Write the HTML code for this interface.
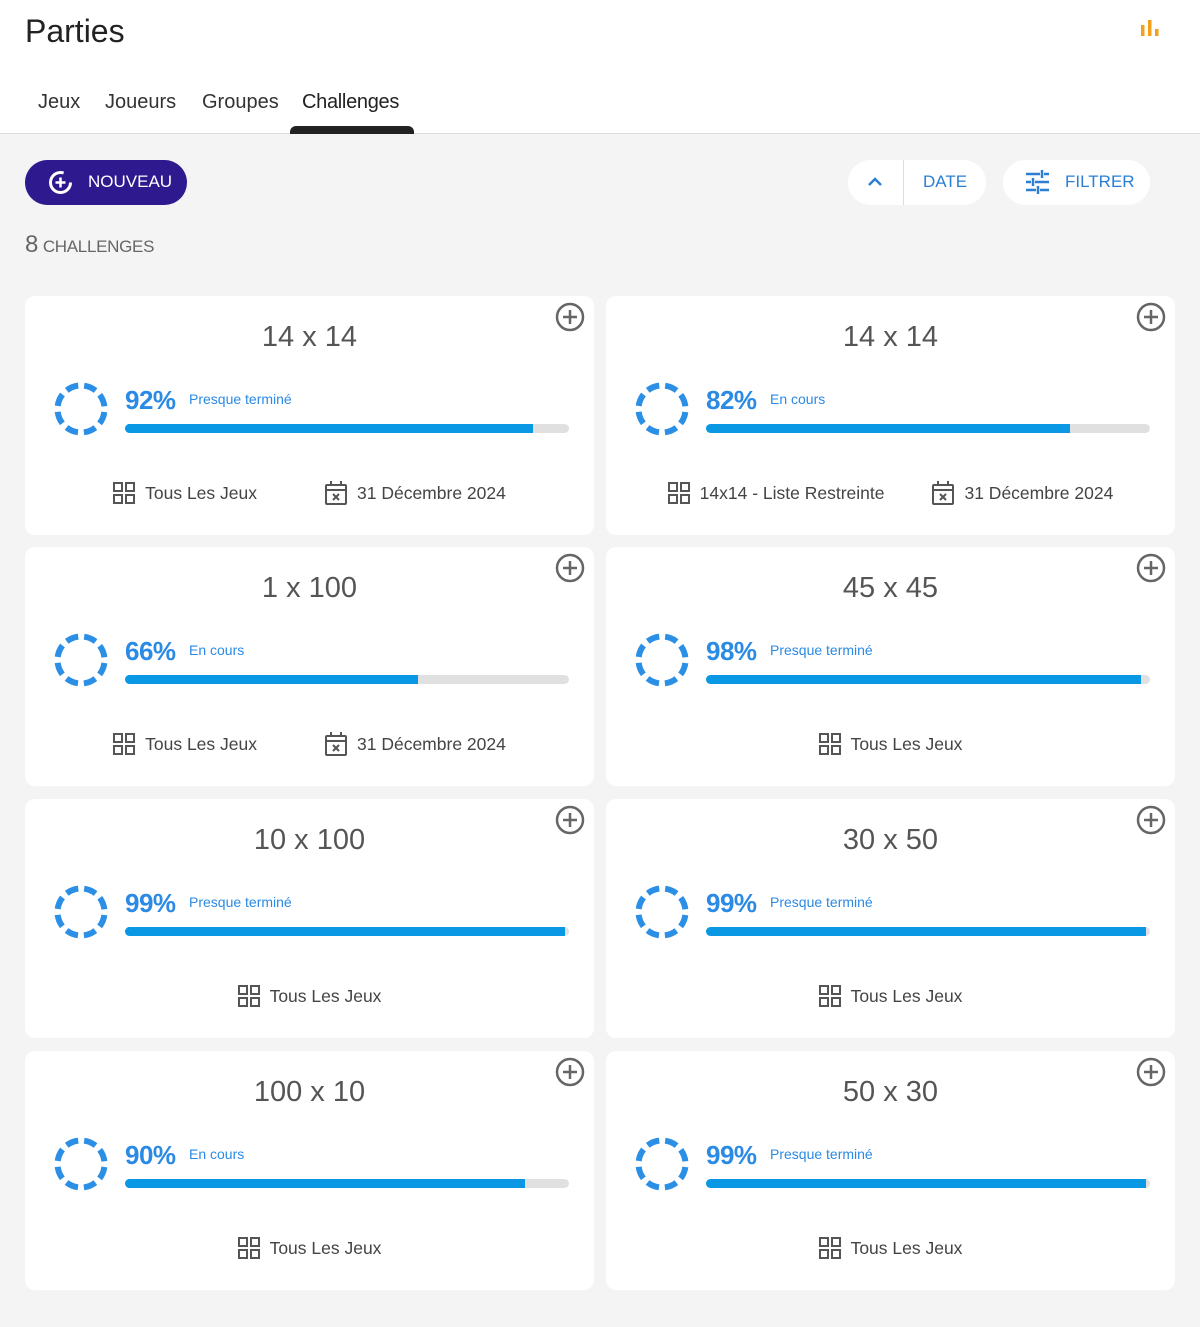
<!DOCTYPE html>
<html><head><meta charset="utf-8"><style>
*{box-sizing:border-box;margin:0;padding:0}
body{width:1200px;height:1327px;background:#f4f4f4;font-family:"Liberation Sans",Roboto,sans-serif;position:relative;overflow:hidden}
.hdr{position:absolute;left:0;top:0;width:1200px;height:134px;background:#fff;border-bottom:1px solid #ddd}
.abs{position:absolute;white-space:nowrap}
.card{position:absolute;width:569px;height:239px;background:#fff;border-radius:10px}
.title{position:absolute;left:0;width:100%;top:23px;text-align:center;font-size:29px;color:#555;line-height:36px}
.pct{position:absolute;left:100px;top:87px;font-size:26px;font-weight:bold;color:#2a8ae4;line-height:34px;letter-spacing:-0.5px}
.st{position:absolute;left:164px;top:93px;font-size:14px;color:#2a8ae4;line-height:20px}
.bar{position:absolute;left:100px;top:128px;width:444px;height:9px;border-radius:5px;background:#e0e0e0;overflow:hidden}
.bar i{display:block;height:100%;background:#0a97e4}
.ft{position:absolute;left:0;width:100%;top:185px;height:24px;display:flex;justify-content:center;align-items:center;font-size:17.5px;color:#444}
.ft span{display:flex;align-items:center}
.ft svg{margin-right:10px}
.plus{position:absolute;left:530px;top:6px}
.circ{position:absolute;left:29px;top:86px}
</style></head><body>
<div class="hdr"></div>
<div class="abs" style="left:25px;top:11px;font-size:32px;color:#222;line-height:40px">Parties</div>
<svg class="abs" style="left:1140px;top:19px" width="20" height="20"><rect x="1" y="6" width="3.5" height="11" fill="#f5a01a"/><rect x="8" y="1" width="3.5" height="16" fill="#f5a01a"/><rect x="15" y="10" width="3.5" height="7" fill="#f5a01a"/></svg>
<div class="abs" style="left:38px;top:90px;font-size:20px;color:#333;line-height:24px">Jeux</div>
<div class="abs" style="left:105px;top:90px;font-size:20px;color:#333;line-height:24px">Joueurs</div>
<div class="abs" style="left:202px;top:90px;font-size:20px;color:#333;line-height:24px">Groupes</div>
<div class="abs" style="left:302px;top:90px;font-size:20px;color:#222;line-height:24px;letter-spacing:-0.3px">Challenges</div>
<div class="abs" style="left:290px;top:126px;width:124px;height:8px;background:#222;border-radius:6px 6px 0 0"></div>

<div class="abs" style="left:25px;top:160px;width:162px;height:45px;border-radius:23px;background:#2e1a8e"></div>
<svg class="abs" style="left:47px;top:169px" width="27" height="27" viewBox="0 0 27 27"><circle cx="13.5" cy="13.5" r="10" fill="none" stroke="#fff" stroke-width="3" stroke-dasharray="50 13"/><path d="M13.5 8.5v10M8.5 13.5h10" stroke="#fff" stroke-width="2.5"/></svg>
<div class="abs" style="left:88px;top:171px;font-size:17px;color:#fff;line-height:22px">NOUVEAU</div>

<div class="abs" style="left:848px;top:160px;width:138px;height:45px;border-radius:23px;background:#fff"></div>
<div class="abs" style="left:903px;top:160px;width:1px;height:45px;background:#ddd"></div>
<svg class="abs" style="left:866px;top:174px" width="18" height="14"><path d="M3 11l6-6 6 6" fill="none" stroke="#2a7fd4" stroke-width="2.5"/></svg>
<div class="abs" style="left:923px;top:171px;font-size:17px;color:#2a7fd4;line-height:22px;font-weight:500">DATE</div>
<div class="abs" style="left:1003px;top:160px;width:147px;height:45px;border-radius:23px;background:#fff"></div>
<svg class="abs" style="left:1025px;top:170px" width="26" height="24"><g stroke="#2a7fd4" stroke-width="2.5"><path d="M1 4h14M19 4h5M1 12h5M10 12h14M1 20h10M15 20h9M17 0v8M8 8v8M13 16v8"/></g></svg>
<div class="abs" style="left:1065px;top:171px;font-size:17px;color:#2a7fd4;line-height:22px;font-weight:500">FILTRER</div>

<div class="abs" style="left:25px;top:231px;color:#666;line-height:28px"><span style="font-size:24px">8</span> <span style="font-size:17px;letter-spacing:-0.3px">CHALLENGES</span></div>

<svg width="0" height="0" style="position:absolute"><defs>
<symbol id="grid" viewBox="0 0 22 22"><g fill="none" stroke="#555" stroke-width="2"><rect x="1" y="1" width="8" height="8"/><rect x="13" y="1" width="8" height="8"/><rect x="1" y="13" width="8" height="8"/><rect x="13" y="13" width="8" height="8"/></g></symbol>
<symbol id="cal" viewBox="0 0 22 24"><g fill="none" stroke="#555" stroke-width="2"><rect x="1" y="4" width="20" height="19" rx="1"/><path d="M1 9h20M6 0v5M16 0v5M8 13l6 6M14 13l-6 6"/></g></symbol>
<symbol id="pl" viewBox="0 0 30 30"><circle cx="15" cy="15" r="13" fill="none" stroke="#666" stroke-width="2.5"/><path d="M15 8v14M8 15h14" stroke="#666" stroke-width="2.5"/></symbol>
<symbol id="ci" viewBox="0 0 54 54"><circle cx="27" cy="27" r="23.5" fill="none" stroke="#2b8fe6" stroke-width="6" stroke-dasharray="12.5 5.96" stroke-dashoffset="-2.98"/></symbol>
</defs></svg>

<!-- cards -->
<div class="card" style="left:25px;top:296px"><div class="title">14 x 14</div><svg class="plus" width="30" height="30"><use href="#pl"/></svg><svg class="circ" width="54" height="54"><use href="#ci"/></svg><div class="pct">92%</div><div class="st">Presque terminé</div><div class="bar"><i style="width:92%"></i></div><div class="ft"><span><svg width="22" height="22"><use href="#grid"/></svg>Tous Les Jeux</span><span style="margin-left:68px"><svg width="22" height="24"><use href="#cal"/></svg>31 Décembre 2024</span></div></div>

<div class="card" style="left:606px;top:296px"><div class="title">14 x 14</div><svg class="plus" width="30" height="30"><use href="#pl"/></svg><svg class="circ" width="54" height="54"><use href="#ci"/></svg><div class="pct">82%</div><div class="st">En cours</div><div class="bar"><i style="width:82%"></i></div><div class="ft"><span><svg width="22" height="22"><use href="#grid"/></svg>14x14 - Liste Restreinte</span><span style="margin-left:48px"><svg width="22" height="24"><use href="#cal"/></svg>31 Décembre 2024</span></div></div>

<div class="card" style="left:25px;top:547px"><div class="title">1 x 100</div><svg class="plus" width="30" height="30"><use href="#pl"/></svg><svg class="circ" width="54" height="54"><use href="#ci"/></svg><div class="pct">66%</div><div class="st">En cours</div><div class="bar"><i style="width:66%"></i></div><div class="ft"><span><svg width="22" height="22"><use href="#grid"/></svg>Tous Les Jeux</span><span style="margin-left:68px"><svg width="22" height="24"><use href="#cal"/></svg>31 Décembre 2024</span></div></div>

<div class="card" style="left:606px;top:547px"><div class="title">45 x 45</div><svg class="plus" width="30" height="30"><use href="#pl"/></svg><svg class="circ" width="54" height="54"><use href="#ci"/></svg><div class="pct">98%</div><div class="st">Presque terminé</div><div class="bar"><i style="width:98%"></i></div><div class="ft"><span><svg width="22" height="22"><use href="#grid"/></svg>Tous Les Jeux</span></div></div>

<div class="card" style="left:25px;top:799px"><div class="title">10 x 100</div><svg class="plus" width="30" height="30"><use href="#pl"/></svg><svg class="circ" width="54" height="54"><use href="#ci"/></svg><div class="pct">99%</div><div class="st">Presque terminé</div><div class="bar"><i style="width:99%"></i></div><div class="ft"><span><svg width="22" height="22"><use href="#grid"/></svg>Tous Les Jeux</span></div></div>

<div class="card" style="left:606px;top:799px"><div class="title">30 x 50</div><svg class="plus" width="30" height="30"><use href="#pl"/></svg><svg class="circ" width="54" height="54"><use href="#ci"/></svg><div class="pct">99%</div><div class="st">Presque terminé</div><div class="bar"><i style="width:99%"></i></div><div class="ft"><span><svg width="22" height="22"><use href="#grid"/></svg>Tous Les Jeux</span></div></div>

<div class="card" style="left:25px;top:1051px"><div class="title">100 x 10</div><svg class="plus" width="30" height="30"><use href="#pl"/></svg><svg class="circ" width="54" height="54"><use href="#ci"/></svg><div class="pct">90%</div><div class="st">En cours</div><div class="bar"><i style="width:90%"></i></div><div class="ft"><span><svg width="22" height="22"><use href="#grid"/></svg>Tous Les Jeux</span></div></div>

<div class="card" style="left:606px;top:1051px"><div class="title">50 x 30</div><svg class="plus" width="30" height="30"><use href="#pl"/></svg><svg class="circ" width="54" height="54"><use href="#ci"/></svg><div class="pct">99%</div><div class="st">Presque terminé</div><div class="bar"><i style="width:99%"></i></div><div class="ft"><span><svg width="22" height="22"><use href="#grid"/></svg>Tous Les Jeux</span></div></div>
</body></html>
